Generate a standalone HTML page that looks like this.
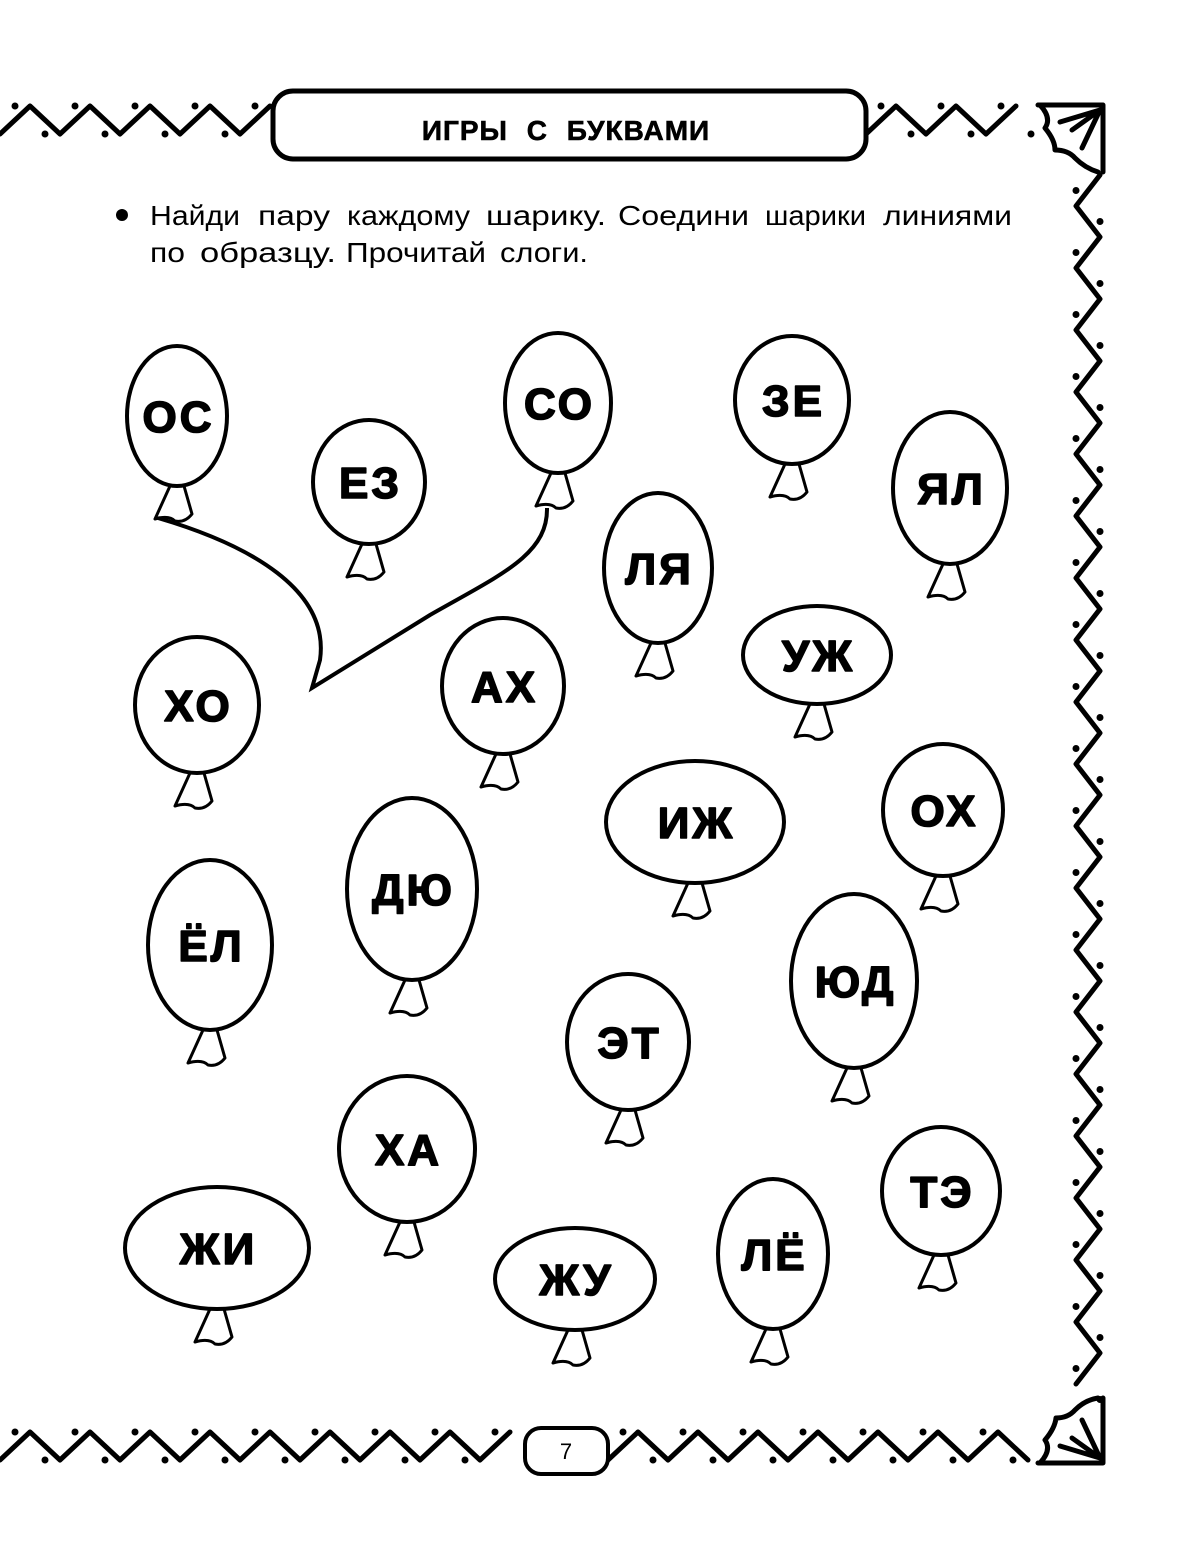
<!DOCTYPE html>
<html><head><meta charset="utf-8"><style>
html,body{margin:0;padding:0;background:#fff}
svg{display:block}
text{font-family:"Liberation Sans",sans-serif;}
</style></head><body>
<svg id="s" width="1193" height="1565" viewBox="0 0 1193 1565" xmlns="http://www.w3.org/2000/svg">
<g id="g" fill="none" stroke="#000" stroke-width="4" stroke-linejoin="round" stroke-linecap="round"></g>
<rect x="273" y="91" width="593" height="68" rx="20" fill="#fff" stroke="#000" stroke-width="5"/>
<text x="566" y="140" text-anchor="middle" font-size="28" font-weight="bold" word-spacing="10" letter-spacing="1" stroke="#000" stroke-width="0.6">ИГРЫ С БУКВАМИ</text>
<circle cx="122" cy="215" r="6" fill="#000"/>
<g font-size="28">
<text x="150" y="225" textLength="90" lengthAdjust="spacingAndGlyphs">Найди</text>
<text x="258" y="225" textLength="72" lengthAdjust="spacingAndGlyphs">пару</text>
<text x="347" y="225" textLength="123" lengthAdjust="spacingAndGlyphs">каждому</text>
<text x="486" y="225" textLength="120" lengthAdjust="spacingAndGlyphs">шарику.</text>
<text x="618" y="225" textLength="131" lengthAdjust="spacingAndGlyphs">Соедини</text>
<text x="765" y="225" textLength="101" lengthAdjust="spacingAndGlyphs">шарики</text>
<text x="883" y="225" textLength="129" lengthAdjust="spacingAndGlyphs">линиями</text>
<text x="150" y="262" textLength="35" lengthAdjust="spacingAndGlyphs">по</text>
<text x="200" y="262" textLength="136" lengthAdjust="spacingAndGlyphs">образцу.</text>
<text x="346" y="262" textLength="140" lengthAdjust="spacingAndGlyphs">Прочитай</text>
<text x="500" y="262" textLength="88" lengthAdjust="spacingAndGlyphs">слоги.</text>
</g>
<rect x="525" y="1428" width="83" height="46" rx="16" fill="#fff" stroke="#000" stroke-width="4"/>
<text x="566" y="1459" text-anchor="middle" font-size="22">7</text>
<path d="M158 518 C250 545 330 590 320 660 L312 688 L430 615 C500 575 548 555 547 508" fill="none" stroke="#000" stroke-width="4"/>
</svg>
<script>
var g=document.getElementById('g');var h='';
function zz(x0,x1,y,amp,per){var d='M'+x0+' '+(y+amp);var i=0;for(var x=x0;x<=x1;x+=per/2){d+=' L'+x+' '+(i%2?y-amp:y+amp);i++;}
h+='<path stroke-width="5" d="'+d+'"/>';
for(var x=x0+per/4;x<x1;x+=per/2){var k=Math.round((x-x0-per/4)/(per/2));h+='<circle cx="'+x+'" cy="'+(k%2?y+amp:y-amp)+'" r="3.5" fill="#000" stroke="none"/>';}}
function vz(y0,y1,x,amp,per){var d='M'+(x+amp)+' '+y0;var i=0;for(var y=y0;y<=y1;y+=per/2){d+=' L'+(i%2?x-amp:x+amp)+' '+y;i++;}
h+='<path stroke-width="5" d="'+d+'"/>';
for(var y=y0+per/4;y<y1;y+=per/2){var k=Math.round((y-y0-per/4)/(per/2));h+='<circle cx="'+(k%2?x+amp:x-amp)+'" cy="'+y+'" r="3.5" fill="#000" stroke="none"/>';}}
zz(0,272,120,14,60);zz(866,1040,120,14,60);
zz(0,525,1446,14,60);zz(608,1040,1446,14,60);
vz(175,1400,1088,12,62);
h+='<path stroke-width="5" d="M1038 105 L1103 105 L1103 172 M1103 105 L1040 105 Q1052 118 1045 128 Q1055 140 1055 150 Q1068 150 1075 158 Q1085 168 1098 172" />';
h+='<path stroke-width="5" d="M1100 110 L1072 130 M1100 110 L1082 148 M1100 110 L1060 122"/>';
h+='<path stroke-width="5" d="M1038 1463 L1103 1463 L1103 1398 M1040 1463 Q1052 1450 1045 1440 Q1055 1428 1056 1418 Q1068 1418 1075 1410 Q1085 1400 1098 1398"/>';
h+='<path stroke-width="5" d="M1100 1458 L1072 1438 M1100 1458 L1082 1420 M1100 1458 L1060 1446"/>';
var B=[[177,416,50,70,'ОС'],[369,482,56,62,'ЕЗ'],[558,403,53,70,'СО'],[792,400,57,64,'ЗЕ'],[950,488,57,76,'ЯЛ'],[658,568,54,75,'ЛЯ'],[817,655,74,49,'УЖ'],[197,705,62,68,'ХО'],[503,686,61,68,'АХ'],[695,822,89,61,'ИЖ'],[943,810,60,66,'ОХ'],[412,889,65,91,'ДЮ'],[210,945,62,85,'ЁЛ'],[854,981,63,87,'ЮД'],[628,1042,61,68,'ЭТ'],[407,1149,68,73,'ХА'],[941,1191,59,64,'ТЭ'],[217,1248,92,61,'ЖИ'],[575,1279,80,51,'ЖУ'],[773,1254,55,75,'ЛЁ']];
B.forEach(function(b){var cx=b[0],cy=b[1],rx=b[2],ry=b[3],by=cy+ry;
h+='<path stroke-width="3" d="M'+(cx-7)+' '+by+' L'+(cx-22)+' '+(by+33)+' Q'+(cx-8)+' '+(by+29)+' '+(cx-2)+' '+(by+35)+' Q'+(cx+8)+' '+(by+37)+' '+(cx+15)+' '+(by+28)+' L'+(cx+7)+' '+by+'"/>';
h+='<ellipse cx="'+cx+'" cy="'+cy+'" rx="'+rx+'" ry="'+ry+'" fill="#fff" stroke-width="4"/>';
h+='<text x="'+(cx+1.5)+'" y="'+(cy+16)+'" text-anchor="middle" font-size="44" font-weight="bold" letter-spacing="3" fill="#000" stroke="#000" stroke-width="1.6" stroke-linejoin="round">'+b[4]+'</text>';});
g.innerHTML=h;
</script>
</body></html>
